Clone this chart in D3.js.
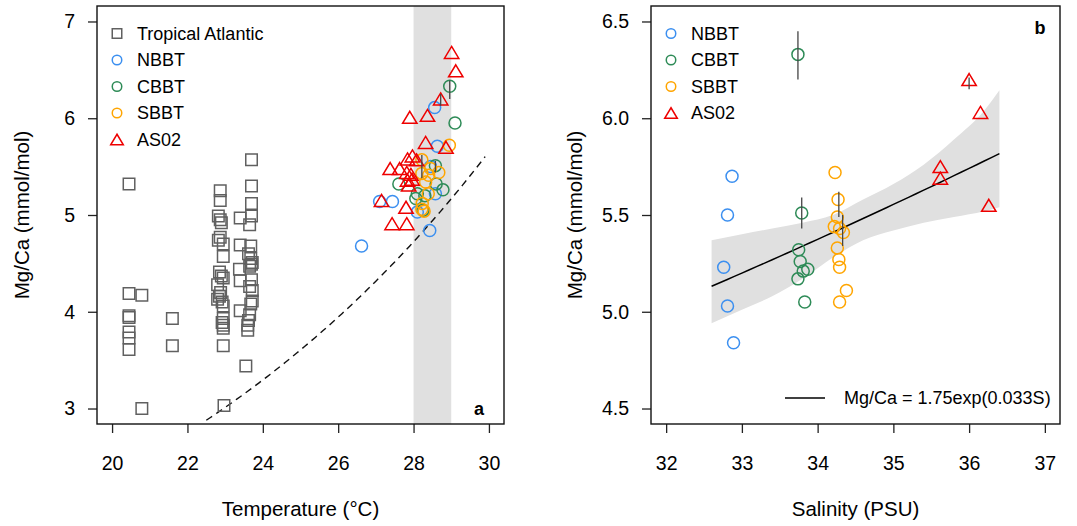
<!DOCTYPE html>
<html>
<head>
<meta charset="utf-8">
<script src="https://cdn.jsdelivr.net/npm/d3@7"></script>
<style>
  body { margin: 0; background: #fff; }
  svg { font-family: 'Liberation Sans', Arial, Helvetica, sans-serif; }
</style>
</head>
<body>
<div id="chart"></div>
<script>

// panel a : Mg/Ca vs temperature [ T, Mg/Ca ]

const tropical_atlantic = [
  [20.45,5.32],[20.45,4.19],[20.45,3.96],[20.45,3.94],[20.45,3.79],[20.45,3.73],[20.45,3.61],
  [20.79,4.17],[20.79,3.00],[21.60,3.93],[21.60,3.65],
  [22.87,5.25],[22.87,5.15],[22.82,4.99],[22.87,4.95],[22.90,4.92],[22.82,4.74],[22.87,4.77],
  [22.95,4.70],[22.95,4.57],[22.85,4.41],[22.90,4.37],[22.95,4.35],[22.80,4.28],[22.88,4.20],
  [22.85,4.16],[22.80,4.13],[22.92,4.10],[22.95,4.06],[22.95,3.93],[22.92,3.89],[22.95,3.86],
  [22.95,3.83],[22.95,3.65],[22.97,3.03],
  [23.70,5.57],[23.70,5.30],[23.70,5.12],[23.70,4.99],[23.40,4.97],[23.65,4.90],[23.40,4.69],
  [23.68,4.68],[23.62,4.60],[23.68,4.55],[23.72,4.51],[23.65,4.47],[23.70,4.49],[23.38,4.44],
  [23.40,4.32],[23.70,4.33],[23.65,4.26],[23.72,4.22],[23.68,4.08],[23.72,4.11],[23.40,4.01],
  [23.65,3.97],[23.62,3.91],[23.60,3.86],[23.60,3.81],[23.55,3.44]
]
const nbbt_t = [[28.56,6.11],[28.63,5.71],[27.10,5.14],[27.44,5.14],[28.43,4.84],[26.62,4.68],[28.10,5.03],[28.58,5.22],[28.45,5.50]]
const cbbt_t = [[28.96,6.33],[29.10,5.95],[27.61,5.32],[28.58,5.51],[28.60,5.32],[28.78,5.26],[28.10,5.22],[28.06,5.17],[28.25,5.05],[28.30,5.20]]
const sbbt_t = [[28.95,5.72],[28.22,5.57],[28.45,5.48],[28.22,5.43],[28.67,5.44],[28.40,5.41],[28.32,5.34],[28.39,5.22],[28.23,5.12],[28.22,5.06],[28.28,5.04]]
const as02_t = [[29.01,6.68],[29.12,6.49],[28.72,6.20],[27.90,6.01],[28.37,6.03],[28.32,5.75],[28.86,5.70],
  [27.84,5.58],[27.97,5.61],[28.08,5.57],[27.38,5.48],[27.63,5.48],[27.82,5.44],[27.93,5.42],
  [27.84,5.36],[27.96,5.37],[27.87,5.31],[27.15,5.15],[27.80,5.08],[27.43,4.91],[27.82,4.91]]
const errors_t = [[28.96,6.20,6.39],[28.58,5.44,5.56],[28.22,5.38,5.62],[28.72,6.13,6.25]]

// Anand et al. calibration  Mg/Ca = 0.38 exp(0.09 T), drawn dashed
const anand = { b: 0.38, a: 0.09, from: 22.5, to: 29.9 }
const band_t = [28, 29]

// panel b : Mg/Ca vs salinity [ S, Mg/Ca ]

const nbbt_s = [[32.87,5.70],[32.81,5.50],[32.76,5.23],[32.81,5.03],[32.89,4.84]]
const cbbt_s = [[33.74,6.33],[33.79,5.51],[33.75,5.32],[33.77,5.26],[33.81,5.21],[33.87,5.22],[33.74,5.17],[33.83,5.05]]
const sbbt_s = [[34.23,5.72],[34.27,5.58],[34.26,5.49],[34.22,5.44],[34.29,5.43],[34.34,5.41],[34.26,5.33],[34.28,5.27],[34.29,5.23],[34.38,5.11],[34.29,5.05]]
const as02_s = [[36.00,6.20],[36.15,6.03],[35.62,5.75],[35.62,5.69],[36.26,5.55]]
const errors_s = [[33.74,6.20,6.45],[33.79,5.43,5.59],[34.28,5.49,5.62],[34.33,5.34,5.50],[36.00,6.15,6.21]]

// fit Mg/Ca = 1.75 exp(0.033 S) and its confidence band [ S, lower, upper ]
const fit = { b: 1.75, a: 0.033, from: 32.6, to: 36.4 }
const fit_band = [[32.6,4.94,5.37],[33.0,5.01,5.40],[33.4,5.08,5.43],[33.8,5.17,5.46],[34.2,5.28,5.50],
  [34.6,5.37,5.58],[35.0,5.42,5.66],[35.4,5.46,5.76],[35.8,5.49,5.89],[36.2,5.52,6.04],[36.4,5.54,6.145]]

const ticks_t = [20, 22, 24, 26, 28, 30]
const ticks_mg_a = [3, 4, 5, 6, 7]
const ticks_s = [32, 33, 34, 35, 36, 37]
const ticks_mg_b = [4.5, 5.0, 5.5, 6.0, 6.5]

const series_a = [
  { name: 'Tropical Atlantic', shape: 'square', color: '#606060', data: tropical_atlantic },
  { name: 'NBBT', shape: 'circle', color: '#3b8ff0', data: nbbt_t },
  { name: 'CBBT', shape: 'circle', color: '#2e8b57', data: cbbt_t },
  { name: 'SBBT', shape: 'circle', color: '#ffa500', data: sbbt_t },
  { name: 'AS02', shape: 'triangle', color: '#ee0000', data: as02_t }
]
const series_b = [
  { name: 'NBBT', shape: 'circle', color: '#3b8ff0', data: nbbt_s },
  { name: 'CBBT', shape: 'circle', color: '#2e8b57', data: cbbt_s },
  { name: 'SBBT', shape: 'circle', color: '#ffa500', data: sbbt_s },
  { name: 'AS02', shape: 'triangle', color: '#ee0000', data: as02_s }
]

const WIDTH = 1077
const HEIGHT = 526
const TICK_FONT = 19.5
const TITLE_FONT = 20.5
const LEGEND_FONT = 18

let svg = d3.select('#chart')
  .append('svg')
    .attr('width', WIDTH)
    .attr('height', HEIGHT)

// marker path, centred at 0,0
function marker(shape, size) {
  let h = size / 2
  if(shape === 'square') return 'M' + -h + ',' + -h + 'H' + h + 'V' + h + 'H' + -h + 'Z'
  if(shape === 'triangle') {
    let w = size * 0.6, t = size * 0.5
    return 'M0,' + -t + 'L' + w + ',' + t + 'H' + -w + 'Z'
  }
  return 'M' + -h + ',0A' + h + ',' + h + ' 0 1,0 ' + h + ',0A' + h + ',' + h + ' 0 1,0 ' + -h + ',0Z'
}
const plot_size = { square: 11.5, circle: 12, triangle: 12 }
const legend_size = { square: 9.5, circle: 9.5, triangle: 10.5 }

function panel(box, xdom, ydom, id) {
  let g = svg.append('g')
  let x = d3.scaleLinear().domain(xdom).range([box.left, box.right])
  let y = d3.scaleLinear().domain(ydom).range([box.bottom, box.top])

  svg.append('clipPath')
      .attr('id', id)
    .append('rect')
      .attr('x', box.left).attr('y', box.top)
      .attr('width', box.right - box.left).attr('height', box.bottom - box.top)

  let plot = g.append('g').attr('clip-path', 'url(#' + id + ')')
  return { g, x, y, plot, box }
}

function axes(p, xticks, yticks, yfmt, xtitle, ytitle, ytitle_x) {
  let { g, x, y, box } = p

  let xaxis = g.append('g')
    .attr('transform', 'translate(0,' + box.bottom + ')')
    .call(d3.axisBottom(x).tickValues(xticks).tickFormat(d3.format('d')).tickSize(9).tickPadding(23).tickSizeOuter(0))
  let yaxis = g.append('g')
    .attr('transform', 'translate(' + box.left + ',0)')
    .call(d3.axisLeft(y).tickValues(yticks).tickFormat(yfmt).tickSize(9).tickPadding(13).tickSizeOuter(0))

  for(let ax of [xaxis, yaxis]) {
    ax.select('.domain').remove()
    ax.selectAll('.tick line').attr('stroke', '#222').attr('stroke-width', 1.3)
    ax.selectAll('.tick text')
      .attr('fill', '#000')
      .style('font-size', TICK_FONT + 'px')
      .style('font-family', "'Liberation Sans', Arial, sans-serif")
  }

  g.append('rect')
    .attr('x', box.left).attr('y', box.top)
    .attr('width', box.right - box.left).attr('height', box.bottom - box.top)
    .attr('fill', 'none')
    .attr('stroke', '#111')
    .attr('stroke-width', 1.4)

  g.append('text')
    .attr('x', (box.left + box.right) / 2)
    .attr('y', 516)
    .attr('text-anchor', 'middle')
    .style('font-size', TITLE_FONT + 'px')
    .text(xtitle)

  g.append('text')
    .attr('transform', 'translate(' + ytitle_x + ',' + (box.top + box.bottom) / 2 + ') rotate(-90)')
    .attr('text-anchor', 'middle')
    .attr('dy', '0.35em')
    .style('font-size', TITLE_FONT + 'px')
    .text(ytitle)
}

function points(p, series) {
  series.forEach( (s) => {
    p.plot.append('g')
      .selectAll('path')
        .data(s.data)
      .enter().append('path')
        .attr('transform', (d) => 'translate(' + p.x(d[0]) + ',' + p.y(d[1]) + ')')
        .attr('d', marker(s.shape, plot_size[s.shape]))
        .attr('fill', 'none')
        .attr('stroke', s.color)
        .attr('stroke-width', 1.5)
  })
}

function error_bars(p, errs) {
  p.plot.append('g')
    .selectAll('line')
      .data(errs)
    .enter().append('line')
      .attr('x1', (d) => p.x(d[0])).attr('x2', (d) => p.x(d[0]))
      .attr('y1', (d) => p.y(d[1])).attr('y2', (d) => p.y(d[2]))
      .attr('stroke', '#444')
      .attr('stroke-width', 1.3)
}

function legend(p, series, lx, tx, y0, dy) {
  let rows = p.g.append('g')
    .selectAll('g')
      .data(series)
    .enter().append('g')
      .attr('transform', (d, i) => 'translate(0,' + (y0 + i * dy) + ')')
  rows.append('path')
    .attr('transform', 'translate(' + lx + ',0)')
    .attr('d', (d) => marker(d.shape, legend_size[d.shape]))
    .attr('fill', 'none')
    .attr('stroke', (d) => d.color)
    .attr('stroke-width', 1.5)
  rows.append('text')
    .attr('x', tx)
    .attr('dy', '0.36em')
    .style('font-size', LEGEND_FONT + 'px')
    .text((d) => d.name)
}

// ---- panel a

let pa = panel({ left: 97, right: 504, top: 6, bottom: 424 }, [19.6, 30.4], [2.84, 7.16], 'clip-a')

pa.plot.append('rect')
  .attr('x', pa.x(band_t[0]))
  .attr('width', pa.x(band_t[1]) - pa.x(band_t[0]))
  .attr('y', pa.box.top)
  .attr('height', pa.box.bottom - pa.box.top)
  .attr('fill', '#e0e0e0')

let anand_curve = d3.range(anand.from, anand.to + 0.001, 0.1)
  .map( (t) => [t, anand.b * Math.exp(anand.a * t)] )
pa.plot.append('path')
  .datum(anand_curve)
  .attr('d', d3.line().x((d) => pa.x(d[0])).y((d) => pa.y(d[1])))
  .attr('fill', 'none')
  .attr('stroke', '#111')
  .attr('stroke-width', 1.4)
  .attr('stroke-dasharray', '7,5')

points(pa, series_a)
error_bars(pa, errors_t)
axes(pa, ticks_t, ticks_mg_a, d3.format('d'), 'Temperature (°C)', 'Mg/Ca (mmol/mol)', 22)
legend(pa, series_a, 117, 137, 33.5, 26.5)

pa.g.append('text')
  .attr('x', 479).attr('y', 409)
  .attr('dy', '0.35em')
  .attr('text-anchor', 'middle')
  .style('font-size', LEGEND_FONT + 'px')
  .style('font-weight', 'bold')
  .text('a')

// ---- panel b

let pb = panel({ left: 651, right: 1060, top: 6, bottom: 424 }, [31.8, 37.2], [4.42, 6.58], 'clip-b')

pb.plot.append('path')
  .datum(fit_band)
  .attr('d', d3.area().x((d) => pb.x(d[0])).y0((d) => pb.y(d[1])).y1((d) => pb.y(d[2])).curve(d3.curveMonotoneX))
  .attr('fill', '#e0e0e0')

let fit_line = d3.range(fit.from, fit.to + 0.001, 0.1)
  .map( (s) => [s, fit.b * Math.exp(fit.a * s)] )
pb.plot.append('path')
  .datum(fit_line)
  .attr('d', d3.line().x((d) => pb.x(d[0])).y((d) => pb.y(d[1])))
  .attr('fill', 'none')
  .attr('stroke', '#000')
  .attr('stroke-width', 1.5)

points(pb, series_b)
error_bars(pb, errors_s)
axes(pb, ticks_s, ticks_mg_b, d3.format('.1f'), 'Salinity (PSU)', 'Mg/Ca (mmol/mol)', 575)
legend(pb, series_b, 671, 691, 33.5, 26.5)

pb.g.append('line')
  .attr('x1', 785).attr('x2', 825)
  .attr('y1', 398).attr('y2', 398)
  .attr('stroke', '#000')
  .attr('stroke-width', 1.5)
pb.g.append('text')
  .attr('x', 844).attr('y', 398)
  .attr('dy', '0.36em')
  .style('font-size', LEGEND_FONT + 'px')
  .text('Mg/Ca = 1.75exp(0.033S)')

pb.g.append('text')
  .attr('x', 1040).attr('y', 28)
  .attr('dy', '0.35em')
  .attr('text-anchor', 'middle')
  .style('font-size', LEGEND_FONT + 'px')
  .style('font-weight', 'bold')
  .text('b')

</script>
</body>
</html>
